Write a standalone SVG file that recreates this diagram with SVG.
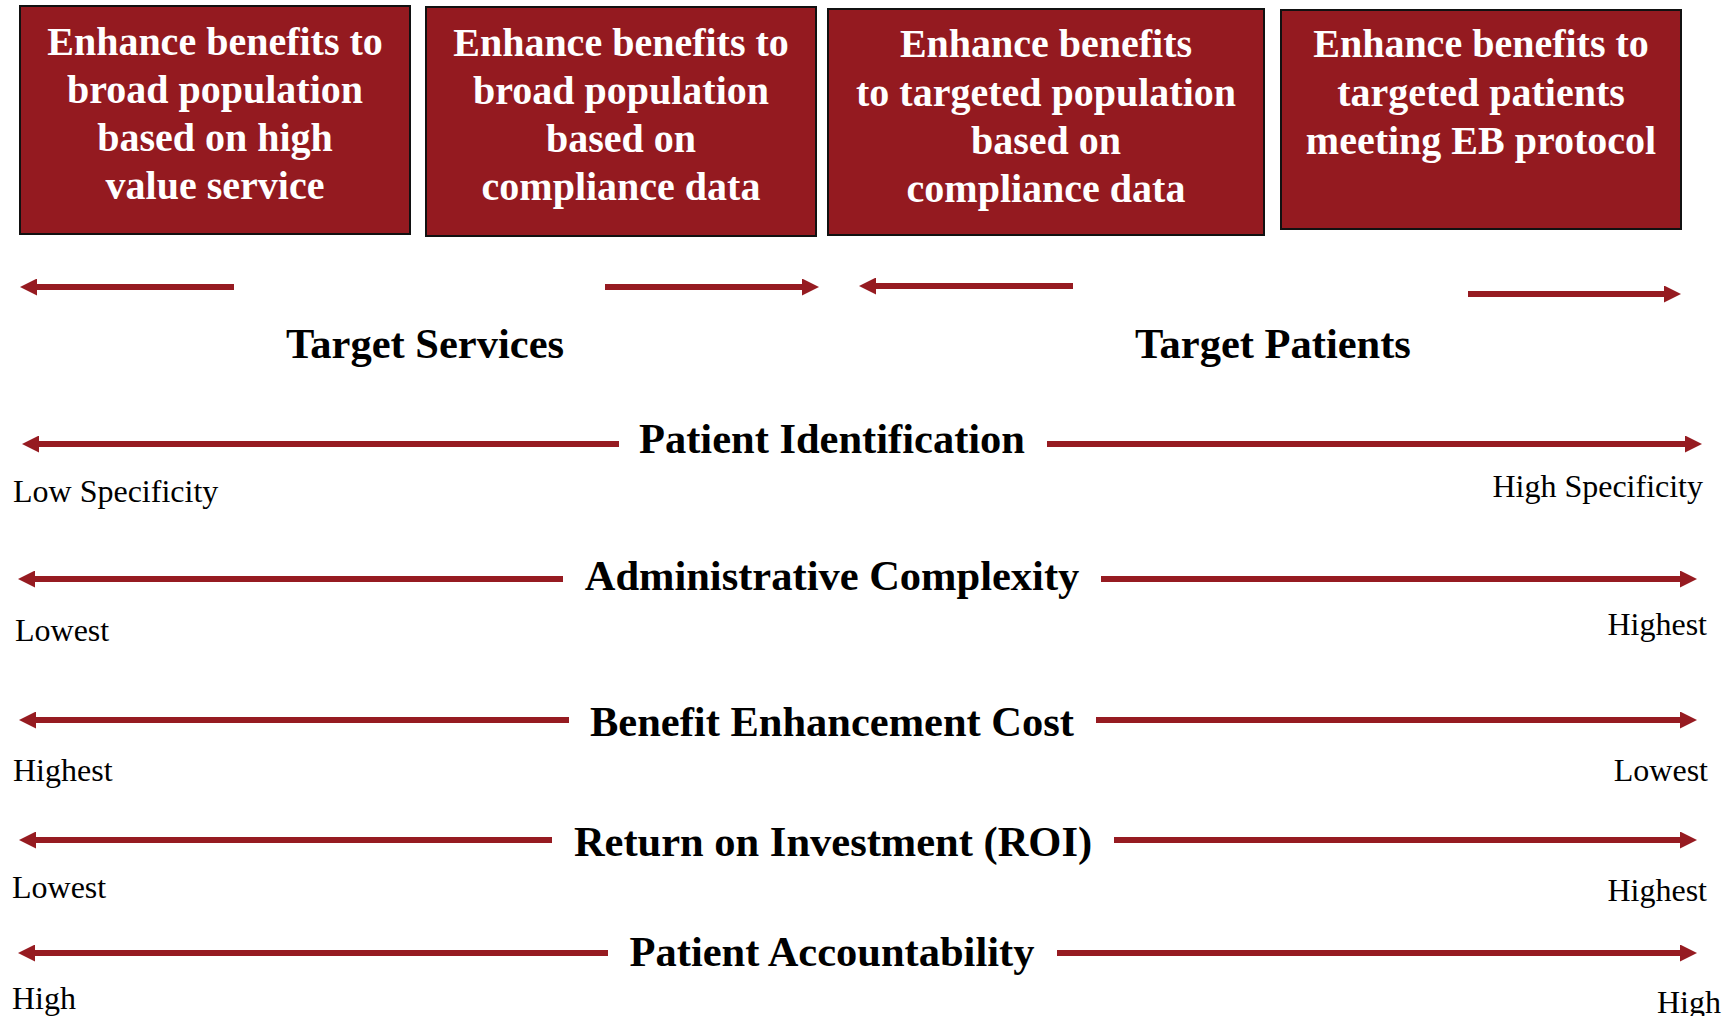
<svg xmlns="http://www.w3.org/2000/svg" width="1734" height="1016" viewBox="0 0 1734 1016">
  <style>
    .box { fill: #941a20; stroke: #111111; stroke-width: 2; }
    .bt { font-family: "Liberation Serif", "Times New Roman", serif; font-weight: bold; font-size: 40px; fill: #ffffff; text-anchor: middle; }
    .ht { font-family: "Liberation Serif", "Times New Roman", serif; font-weight: bold; font-size: 42.5px; fill: #000000; text-anchor: middle; }
    .st { font-family: "Liberation Serif", "Times New Roman", serif; font-size: 32px; fill: #000000; }
    .end { text-anchor: end; }
    .arr { stroke: #961b21; stroke-width: 6; fill: none; marker-end: url(#head); }
  </style>
  <defs>
    <marker id="head" markerUnits="userSpaceOnUse" markerWidth="17" markerHeight="17" refX="0" refY="8.5" orient="auto" viewBox="0 0 17 17">
      <path d="M0,0 L17,8.5 L0,17 z" fill="#961b21"/>
    </marker>
  </defs>
  <rect width="1734" height="1016" fill="#ffffff"/>

  <g id="box-broad-high-value">
    <rect class="box" x="20" y="6" width="390" height="228"/>
    <text class="bt" x="215" y="55">Enhance benefits to</text>
    <text class="bt" x="215" y="103">broad population</text>
    <text class="bt" x="215" y="151">based on high</text>
    <text class="bt" x="215" y="199">value service</text>
  </g>
  <g id="box-broad-compliance">
    <rect class="box" x="426" y="7" width="390" height="229"/>
    <text class="bt" x="621" y="56">Enhance benefits to</text>
    <text class="bt" x="621" y="104">broad population</text>
    <text class="bt" x="621" y="152">based on</text>
    <text class="bt" x="621" y="200">compliance data</text>
  </g>
  <g id="box-targeted-compliance">
    <rect class="box" x="828" y="9" width="436" height="226"/>
    <text class="bt" x="1046" y="57">Enhance benefits</text>
    <text class="bt" x="1046" y="106">to targeted population</text>
    <text class="bt" x="1046" y="154">based on</text>
    <text class="bt" x="1046" y="202">compliance data</text>
  </g>
  <g id="box-targeted-patients">
    <rect class="box" x="1281" y="10" width="400" height="219"/>
    <text class="bt" x="1481" y="57">Enhance benefits to</text>
    <text class="bt" x="1481" y="106">targeted patients</text>
    <text class="bt" x="1481" y="154">meeting EB protocol</text>
  </g>

  <g id="connectors">
    <line class="arr" x1="234" y1="287" x2="37" y2="287"/>
    <line class="arr" x1="605" y1="287" x2="802" y2="287"/>
    <line class="arr" x1="1073" y1="286" x2="876" y2="286"/>
    <line class="arr" x1="1468" y1="294" x2="1664" y2="294"/>

    <line class="arr" x1="619" y1="444" x2="39" y2="444"/>
    <line class="arr" x1="1047" y1="444" x2="1685" y2="444"/>

    <line class="arr" x1="563" y1="579" x2="35" y2="579"/>
    <line class="arr" x1="1101" y1="579" x2="1680" y2="579"/>

    <line class="arr" x1="569" y1="720" x2="36" y2="720"/>
    <line class="arr" x1="1096" y1="720" x2="1680" y2="720"/>

    <line class="arr" x1="552" y1="840" x2="36" y2="840"/>
    <line class="arr" x1="1114" y1="840" x2="1680" y2="840"/>

    <line class="arr" x1="608" y1="953" x2="35" y2="953"/>
    <line class="arr" x1="1057" y1="953" x2="1680" y2="953"/>
  </g>

  <g id="labels">
    <text class="ht" x="425" y="358">Target Services</text>
    <text class="ht" x="1273" y="358">Target Patients</text>

    <text class="ht" x="832" y="453">Patient Identification</text>
    <text class="st" x="13" y="502">Low Specificity</text>
    <text class="st end" x="1703" y="497">High Specificity</text>

    <text class="ht" x="832" y="590">Administrative Complexity</text>
    <text class="st" x="15" y="641">Lowest</text>
    <text class="st end" x="1707" y="635">Highest</text>

    <text class="ht" x="832" y="736">Benefit Enhancement Cost</text>
    <text class="st" x="13" y="781">Highest</text>
    <text class="st end" x="1708" y="781">Lowest</text>

    <text class="ht" x="833" y="856">Return on Investment (ROI)</text>
    <text class="st" x="12" y="898">Lowest</text>
    <text class="st end" x="1707" y="901">Highest</text>

    <text class="ht" x="832" y="966">Patient Accountability</text>
    <text class="st" x="12" y="1009">High</text>
    <text class="st end" x="1721" y="1013">High</text>
  </g>
</svg>
